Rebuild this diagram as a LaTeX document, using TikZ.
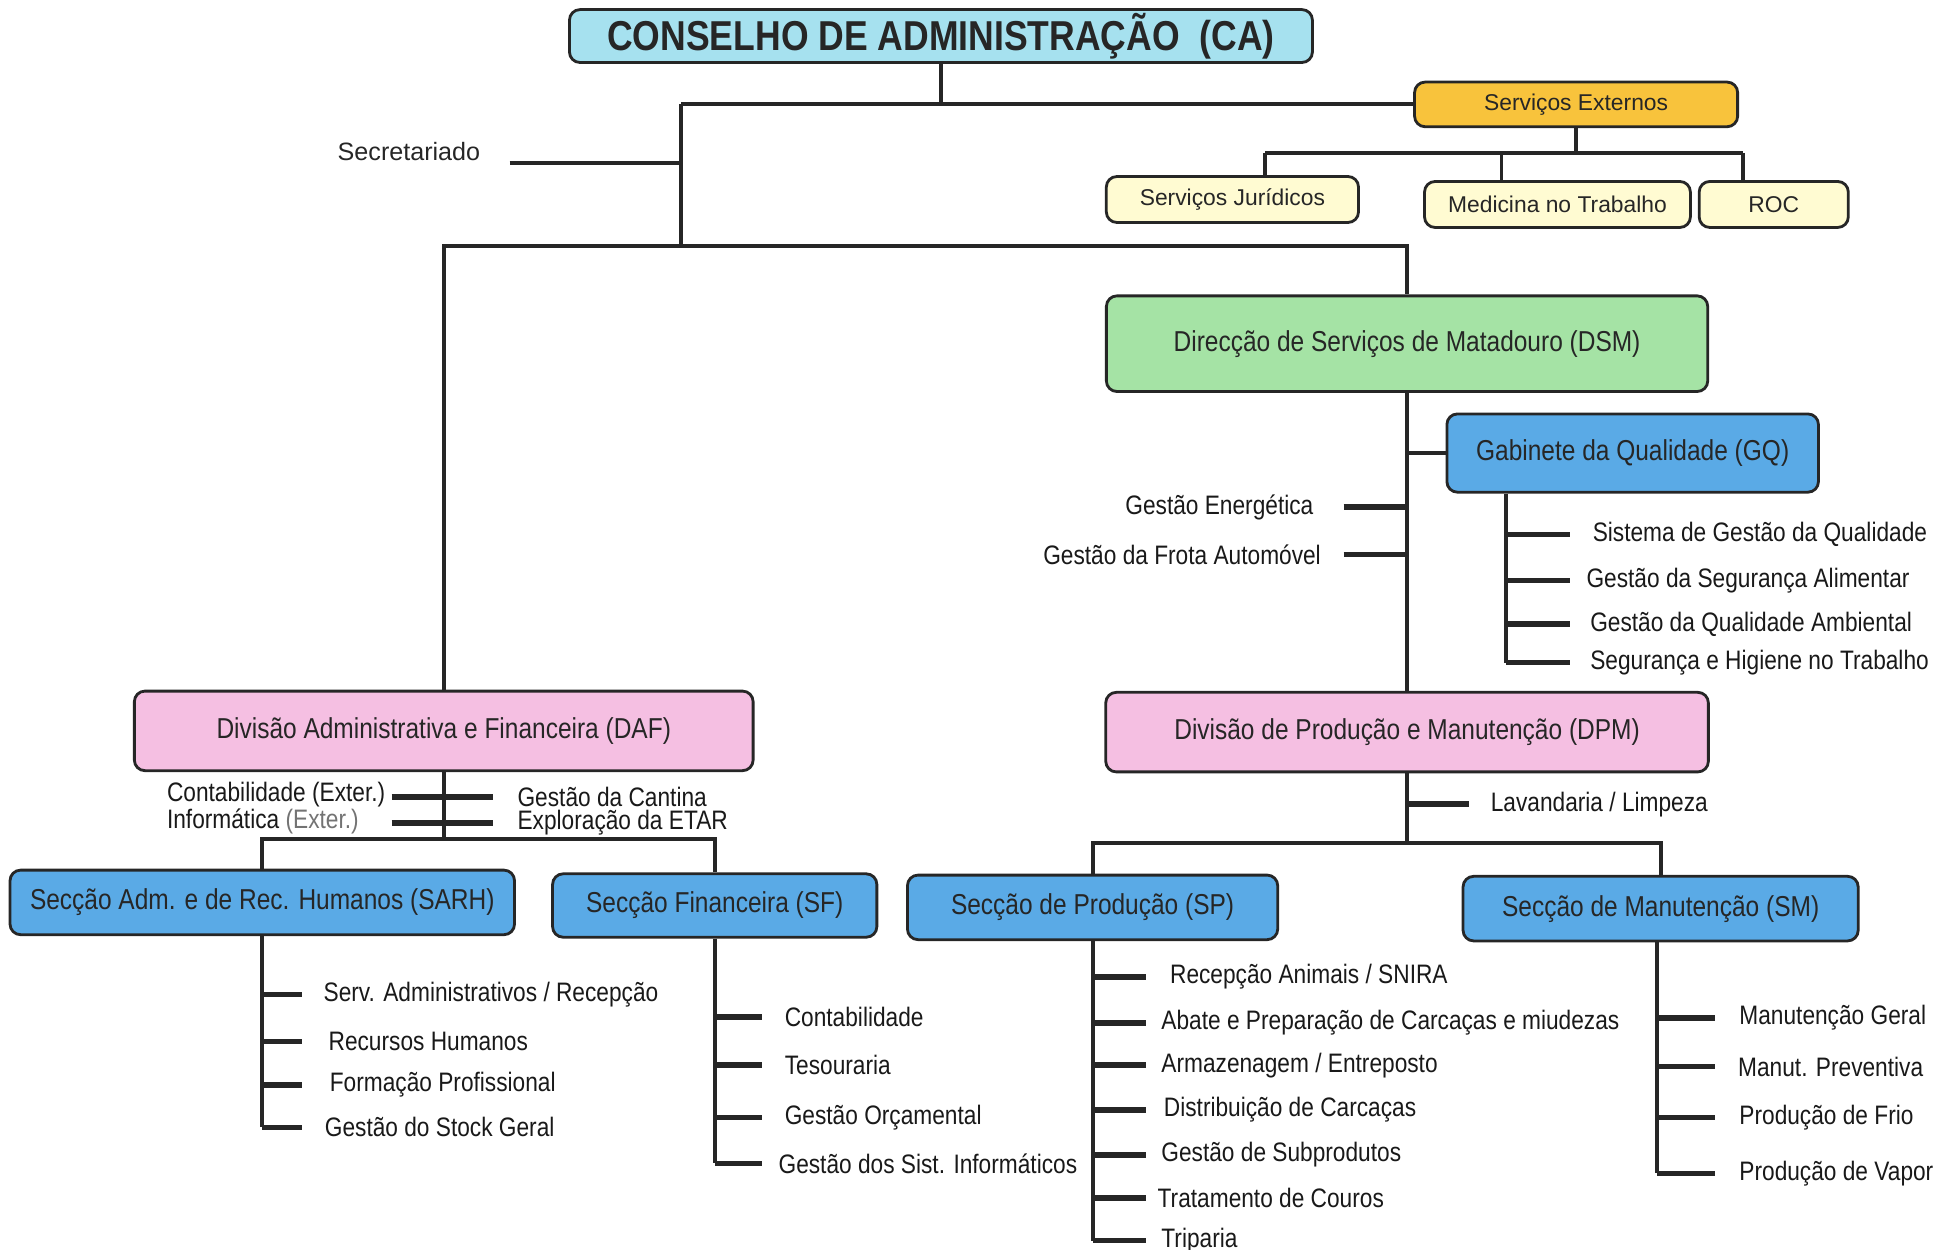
\documentclass[tikz,border=0pt]{standalone}
\usepackage{fontspec}
\setmainfont{Liberation Sans}
\newfontfamily\narrowfont[FakeStretch=0.85]{Liberation Sans}
\usetikzlibrary{positioning, calc}

\definecolor{caBlue}{HTML}{A6E1EF}
\definecolor{extOrange}{HTML}{F8C33C}
\definecolor{extYellow}{HTML}{FFFBD2}
\definecolor{dirGreen}{HTML}{A5E3A5}
\definecolor{secBlue}{HTML}{5AAAE6}
\definecolor{divPink}{HTML}{F5BFE2}

\newcommand\boxfont{\narrowfont\fontsize{8.2}{9.5}\selectfont}
\newcommand\itemfont{\narrowfont\fontsize{7.6}{9}\selectfont}
\newcommand\extfont{\fontsize{6.5}{8}\selectfont}

\tikzset{
    box/.style={draw=black!85, line width=0.8pt, rounded corners=3pt,
        inner sep=1pt, text=black!85, font=\boxfont},
    extbox/.style={box, fill=extYellow, minimum height=0.46cm, font=\extfont},
    link/.style={draw=black!85, line width=1.1pt},
    tick/.style={draw=black!85, line width=1.6pt},
    item/.style={inner sep=1pt, anchor=west, text=black!90, font=\itemfont},
}

\begin{document}
\begin{tikzpicture}[x=0.01243cm, y=-0.01243cm]
    \useasboundingbox (0,0) rectangle (1568,1005);

    % top of the chart
    \node[box, fill=caBlue, minimum width=7.433cm, minimum height=0.522cm,
        font=\narrowfont\bfseries\fontsize{11.9}{13}\selectfont] (CA) at (757,29)
        {CONSELHO DE ADMINISTRAÇÃO\ \ (CA)};
    \node[box, fill=extOrange, minimum width=3.232cm, minimum height=0.447cm,
        font=\extfont] (SE) at (1268,84) {Serviços Externos};
    \node[extbox, minimum width=2.523cm] (SJ) at (991.5,160.5) {Serviços Jurídicos};
    \node[extbox, minimum width=2.660cm] (MT) at (1253,164.5) {Medicina no Trabalho};
    \node[extbox, minimum width=1.492cm] (ROC) at (1427,164.5) {ROC};
    \node[font=\fontsize{7.15}{9}\selectfont, text=black!85] (sec) at (329,122) {Secretariado};

    \coordinate (jA) at (548,84);
    \coordinate (jB) at (548,198);
    \coordinate (secE) at (410,131);
    \coordinate (jS) at (1268,123);
    \coordinate (dSJ) at (1018,123);
    \coordinate (dMT) at (1208,123);
    \coordinate (dROC) at (1402,123);

    \draw[link] (CA.south) -- (CA.south |- jA);
    \draw[link] (jA) -- (SE.west);
    \draw[link] (jA) -- (jB);
    \draw[link] (secE) -- (jA |- secE);
    \draw[link] (SE.south) -- (jS);
    \draw[link] (dSJ) -- (dROC);
    \draw[link] (dSJ) -- (dSJ |- SJ.north);
    \draw[link] (dMT) -- (dMT |- MT.north);
    \draw[link] (dROC) -- (dROC |- ROC.north);

    % direction and divisions
    \node[box, fill=dirGreen, minimum width=6.016cm, minimum height=0.957cm] (DSM) at (1132,276.5)
        {Direcção de Serviços de Matadouro (DSM)};
    \node[box, fill=secBlue, minimum width=3.717cm, minimum height=0.783cm] (GQ) at (1313.5,364.5)
        {Gabinete da Qualidade (GQ)};
    \node[box, fill=divPink, minimum width=6.190cm, minimum height=0.796cm] (DAF) at (357,588)
        {Divisão Administrativa e Financeira (DAF)};
    \node[box, fill=divPink, minimum width=6.029cm, minimum height=0.796cm] (DPM) at (1132,589)
        {Divisão de Produção e Manutenção (DPM)};

    \draw[link] (DAF.north) |- (jB) -| (DSM.north);
    \draw[link] (DSM.south) -- (DPM.north);
    \draw[link] (DSM.south |- GQ.west) -- (GQ.west);

    \node[item, anchor=east] (ge) at (1060,408) {Gestão Energética};
    \node[item, anchor=east] (gf) at (1066,446) {Gestão da Frota Automóvel};
    \coordinate (dsmL) at (1081,0);
    \draw[tick] (dsmL |- ge.east) -- (DSM.south |- ge.east);
    \draw[tick] (dsmL |- gf.east) -- (DSM.south |- gf.east);

    % gabinete da qualidade
    \node[item] (q1) at (1278,430) {Sistema de Gestão da Qualidade};
    \node[item] (q2) at (1273,467) {Gestão da Segurança Alimentar};
    \node[item] (q3) at (1276,502) {Gestão da Qualidade Ambiental};
    \node[item] (q4) at (1276,533) {Segurança e Higiene no Trabalho};
    \coordinate (gqT) at ($(GQ.south west)+(49,0)$);
    \coordinate (gqE) at (1263,0);
    \draw[link] (gqT) -- (gqT |- q4.west);
    \draw[tick] (gqT |- q1.west) -- (gqE |- q1.west);
    \draw[tick] (gqT |- q2.west) -- (gqE |- q2.west);
    \draw[tick] (gqT |- q3.west) -- (gqE |- q3.west);
    \draw[tick] (gqT |- q4.west) -- (gqE |- q4.west);

    % divisao administrativa e financeira
    \node[item] (ct) at (131,639) {Contabilidade (Exter.)};
    \node[item] (inf) at (131,661) {Informática \textcolor{black!55}{(Exter.)}};
    \node[item] (gc) at (413,641) {Gestão da Cantina};
    \node[item] (et) at (413,662) {Exploração da ETAR};
    \coordinate (dafL) at (315,0);
    \coordinate (dafR) at (397,0);
    \draw[tick] (dafL |- gc.west) -- (dafR |- gc.west);
    \draw[tick] (dafL |- et.west) -- (dafR |- et.west);

    \node[box, fill=secBlue, minimum width=5.047cm, minimum height=0.646cm] (SARH) at (211,726)
        {Secção Adm. e de Rec. Humanos (SARH)};
    \node[box, fill=secBlue, minimum width=3.244cm, minimum height=0.634cm] (SF) at (575,728.5)
        {Secção Financeira (SF)};
    \coordinate (jD) at (357,675);
    \draw[link] (DAF.south) -- (jD);
    \draw[link] (SARH.north) |- (jD) -| (SF.north);

    \node[item] (s1) at (257,800) {Serv. Administrativos / Recepção};
    \node[item] (s2) at (261,838) {Recursos Humanos};
    \node[item] (s3) at (262,873) {Formação Profissional};
    \node[item] (s4) at (258,907) {Gestão do Stock Geral};
    \coordinate (sarhE) at (243,0);
    \draw[link] (SARH.south) -- (SARH.south |- s4.west);
    \draw[tick] (SARH.south |- s1.west) -- (sarhE |- s1.west);
    \draw[tick] (SARH.south |- s2.west) -- (sarhE |- s2.west);
    \draw[tick] (SARH.south |- s3.west) -- (sarhE |- s3.west);
    \draw[tick] (SARH.south |- s4.west) -- (sarhE |- s4.west);

    \node[item] (f1) at (628,818) {Contabilidade};
    \node[item] (f2) at (628,857) {Tesouraria};
    \node[item] (f3) at (628,899) {Gestão Orçamental};
    \node[item] (f4) at (623,936) {Gestão dos Sist. Informáticos};
    \coordinate (sfE) at (613,0);
    \draw[link] (SF.south) -- (SF.south |- f4.west);
    \draw[tick] (SF.south |- f1.west) -- (sfE |- f1.west);
    \draw[tick] (SF.south |- f2.west) -- (sfE |- f2.west);
    \draw[tick] (SF.south |- f3.west) -- (sfE |- f3.west);
    \draw[tick] (SF.south |- f4.west) -- (sfE |- f4.west);

    % divisao de producao e manutencao
    \node[item] (lav) at (1196,647) {Lavandaria / Limpeza};
    \draw[tick] (DPM.south |- lav.west) -- (1182,0 |- lav.west);

    \node[box, fill=secBlue, minimum width=3.704cm, minimum height=0.646cm] (SP) at (879,730)
        {Secção de Produção (SP)};
    \node[box, fill=secBlue, minimum width=3.953cm, minimum height=0.646cm] (SM) at (1336,731)
        {Secção de Manutenção (SM)};
    \coordinate (jP) at (1132,678);
    \draw[link] (DPM.south) -- (jP);
    \draw[link] (SP.north) |- (jP) -| (SM.north);

    \node[item] (p1) at (938,786) {Recepção Animais / SNIRA};
    \node[item] (p2) at (931,823) {Abate e Preparação de Carcaças e miudezas};
    \node[item] (p3) at (931,857) {Armazenagem / Entreposto};
    \node[item] (p4) at (933,893) {Distribuição de Carcaças};
    \node[item] (p5) at (931,929) {Gestão de Subprodutos};
    \node[item] (p6) at (928,964) {Tratamento de Couros};
    \node[item] (p7) at (931,998) {Triparia};
    \coordinate (spE) at (922,0);
    \draw[link] (SP.south) -- (SP.south |- p7.west);
    \draw[tick] (SP.south |- p1.west) -- (spE |- p1.west);
    \draw[tick] (SP.south |- p2.west) -- (spE |- p2.west);
    \draw[tick] (SP.south |- p3.west) -- (spE |- p3.west);
    \draw[tick] (SP.south |- p4.west) -- (spE |- p4.west);
    \draw[tick] (SP.south |- p5.west) -- (spE |- p5.west);
    \draw[tick] (SP.south |- p6.west) -- (spE |- p6.west);
    \draw[tick] (SP.south |- p7.west) -- (spE |- p7.west);

    \node[item] (m1) at (1396,819) {Manutenção Geral};
    \node[item] (m2) at (1395,858) {Manut. Preventiva};
    \node[item] (m3) at (1396,899) {Produção de Frio};
    \node[item] (m4) at (1396,944) {Produção de Vapor};
    \coordinate (smT) at (1333,0);
    \coordinate (smE) at (1380,0);
    \draw[link] (smT |- SM.south) -- (smT |- m4.west);
    \draw[tick] (smT |- m1.west) -- (smE |- m1.west);
    \draw[tick] (smT |- m2.west) -- (smE |- m2.west);
    \draw[tick] (smT |- m3.west) -- (smE |- m3.west);
    \draw[tick] (smT |- m4.west) -- (smE |- m4.west);
\end{tikzpicture}
\end{document}
